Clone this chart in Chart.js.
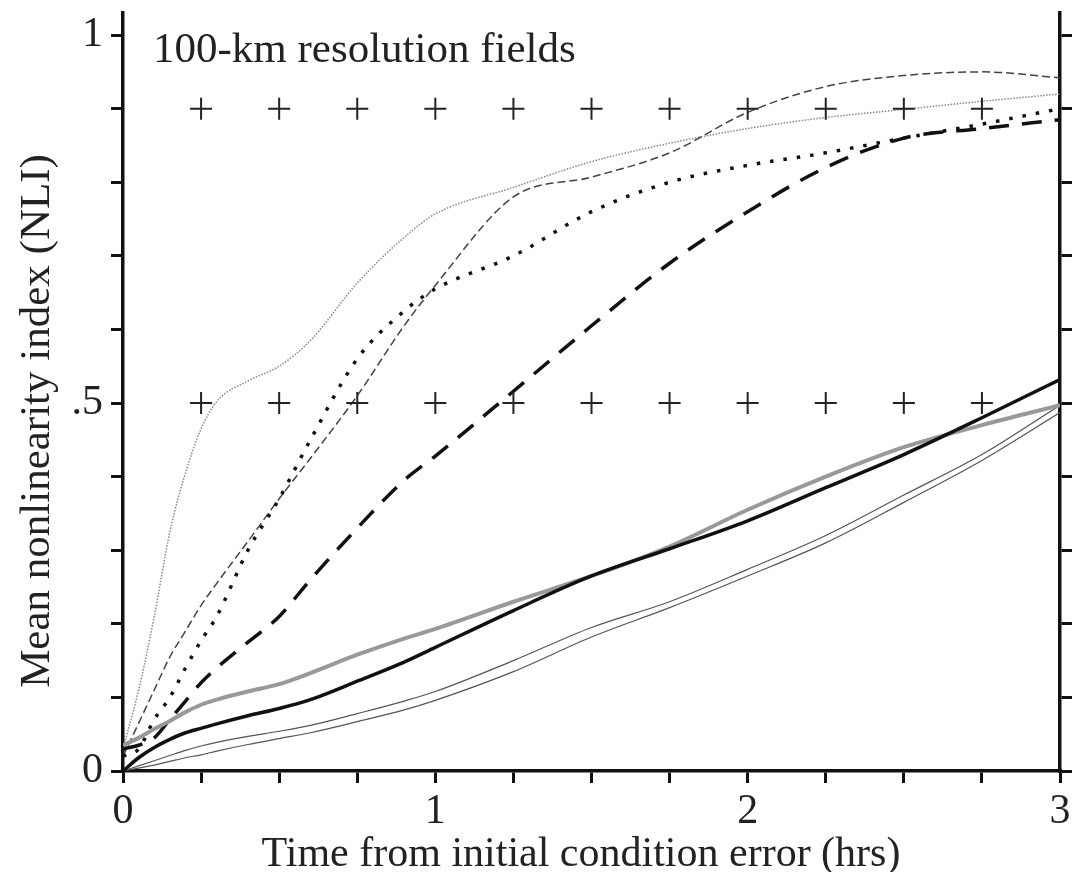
<!DOCTYPE html>
<html>
<head>
<meta charset="utf-8">
<script src="https://cdn.jsdelivr.net/npm/chart.js@4"></script>
<style>
  html, body { margin: 0; padding: 0; background: #fff; }
  #wrap { width: 1073px; height: 872px; }
</style>
</head>
<body>
<div id="wrap"><canvas id="nliChart"></canvas></div>
<script>
// time axis (hrs) shared by all curves
const times = [0, 0.05, 0.1, 0.15, 0.2, 0.25, 0.3, 0.4, 0.5, 0.6, 0.75, 0.9, 1.0, 1.25, 1.5, 1.75, 2.0, 2.25, 2.5, 2.75, 3.0];

// curves
const fineDotted  = [0.03, 0.11, 0.21, 0.325, 0.405, 0.465, 0.502, 0.53, 0.55, 0.585, 0.663, 0.725, 0.757, 0.793, 0.828, 0.853, 0.873, 0.888, 0.899, 0.91, 0.92];
const thinDashed  = [0.02, 0.065, 0.11, 0.155, 0.19, 0.225, 0.255, 0.312, 0.37, 0.425, 0.51, 0.605, 0.66, 0.78, 0.807, 0.84, 0.895, 0.93, 0.945, 0.95, 0.942];
const thickDotted = [0.02, 0.03, 0.07, 0.1, 0.14, 0.177, 0.21, 0.3, 0.37, 0.45, 0.56, 0.625, 0.655, 0.7, 0.76, 0.8, 0.823, 0.84, 0.86, 0.879, 0.9];
const thickDashed = [0.03, 0.035, 0.045, 0.07, 0.095, 0.12, 0.14, 0.175, 0.21, 0.26, 0.33, 0.395, 0.428, 0.516, 0.605, 0.69, 0.76, 0.82, 0.86, 0.873, 0.885];
const graySolid   = [0.035, 0.045, 0.057, 0.068, 0.08, 0.09, 0.097, 0.108, 0.118, 0.133, 0.158, 0.18, 0.193, 0.23, 0.265, 0.305, 0.355, 0.4, 0.44, 0.47, 0.497];
const blackSolid  = [0, 0.018, 0.032, 0.043, 0.052, 0.058, 0.064, 0.075, 0.085, 0.097, 0.122, 0.148, 0.168, 0.218, 0.265, 0.302, 0.34, 0.385, 0.43, 0.48, 0.532];
const thinUpper   = [0, 0.007, 0.014, 0.021, 0.028, 0.034, 0.039, 0.047, 0.054, 0.062, 0.078, 0.095, 0.108, 0.15, 0.195, 0.23, 0.274, 0.32, 0.375, 0.43, 0.497];
const thinLower   = [0, 0.004, 0.008, 0.013, 0.018, 0.022, 0.027, 0.036, 0.044, 0.052, 0.067, 0.083, 0.096, 0.135, 0.182, 0.222, 0.265, 0.31, 0.365, 0.422, 0.487];

// the "+" markers
const crossTimes = [0.25, 0.5, 0.75, 1.0, 1.25, 1.5, 1.75, 2.0, 2.25, 2.5, 2.75];
const crossLevels = [0.9, 0.5];

const panelLabel = '100-km resolution fields';
const xTitle = 'Time from initial condition error (hrs)';
const yTitle = 'Mean nonlinearity index (NLI)';

const serif = 'Liberation Serif';

const toPoints = function (vals) {
    return vals.map((v, i) => ({ x: times[i], y: v }));
};

const crossPoints = [];
crossLevels.forEach(lv => {
    crossTimes.forEach(t => crossPoints.push({ x: t, y: lv }));
});

const lineSet = function (vals, color, width, dash) {
    return {
        type: 'line',
        data: toPoints(vals),
        borderColor: color,
        borderWidth: width,
        borderDash: dash,
        pointRadius: 0,
        cubicInterpolationMode: 'monotone',
        fill: false
    };
};

// titles drawn by hand so they sit where the figure has them
const textPlugin = {
    id: 'textPlugin',
    afterDraw(chart) {
        const ctx = chart.ctx;
        ctx.save();
        ctx.fillStyle = '#222';
        ctx.font = '43px "' + serif + '"';
        ctx.textAlign = 'left';
        ctx.textBaseline = 'alphabetic';
        ctx.fillText(panelLabel, 153, 62);

        ctx.font = '42px "' + serif + '"';
        ctx.textAlign = 'center';
        ctx.fillText(xTitle, 581, 866);

        ctx.font = '43px "' + serif + '"';
        ctx.translate(38, 421);
        ctx.rotate(-Math.PI / 2);
        ctx.textBaseline = 'middle';
        ctx.fillText(yTitle, 0, 0);
        ctx.restore();
    }
};

// keep the scales from reserving extra room for half labels
const noPad = function (scale) {
    scale.paddingTop = 0;
    scale.paddingBottom = 0;
    scale.paddingLeft = 0;
    scale.paddingRight = 0;
};

const axisStyle = {
    border: { display: true, width: 3.5, color: '#111' },
    grid: { drawOnChartArea: false, drawTicks: true, tickLength: 12, color: '#111', lineWidth: 3 }
};

new Chart(document.getElementById('nliChart'), {
    data: {
        datasets: [
            {
                type: 'scatter',
                data: crossPoints,
                pointStyle: 'cross',
                pointRadius: 11,
                pointBorderWidth: 2,
                borderColor: '#222',
                backgroundColor: '#222',
                showLine: false
            },
            lineSet(blackSolid, '#111', 3.5, []),
            lineSet(graySolid, '#999', 4, []),
            lineSet(thickDashed, '#111', 3.5, [20, 13]),
            lineSet(thickDotted, '#111', 3.5, [3.5, 10]),
            lineSet(thinDashed, '#444', 1.5, [8, 4]),
            lineSet(fineDotted, '#888', 1.5, [1.5, 1.5]),
            lineSet(thinUpper, '#555', 1.2, []),
            lineSet(thinLower, '#555', 1.2, [])
        ]
    },
    options: {
        responsive: true,
        maintainAspectRatio: false,
        animation: false,
        layout: { padding: { top: 12, left: 0, right: 0, bottom: 0 } },
        plugins: {
            legend: { display: false },
            tooltip: { enabled: false }
        },
        scales: {
            x: {
                type: 'linear',
                position: 'bottom',
                min: 0,
                max: 3,
                ...axisStyle,
                ticks: {
                    stepSize: 0.25,
                    padding: 4,
                    color: '#222',
                    font: { family: serif, size: 42 },
                    maxRotation: 0,
                    autoSkip: false,
                    callback: v => Number.isInteger(v) ? String(v) : ''
                },
                afterFit: scale => { scale.height = 101; noPad(scale); }
            },
            y: {
                type: 'linear',
                position: 'left',
                min: 0,
                max: 1.03,
                ...axisStyle,
                ticks: {
                    stepSize: 0.1,
                    includeBounds: false,
                    padding: 8,
                    color: '#222',
                    font: { family: serif, size: 42 },
                    autoSkip: false,
                    callback: v => {
                        const r = Math.round(v * 10);
                        if (r === 10) return '1';
                        if (r === 5) return '.5';
                        if (r === 0) return '0';
                        return '';
                    }
                },
                afterFit: scale => { scale.width = 123; noPad(scale); }
            },
            y2: {
                type: 'linear',
                position: 'right',
                min: 0,
                max: 1.03,
                ...axisStyle,
                ticks: {
                    stepSize: 0.1,
                    includeBounds: false,
                    autoSkip: false,
                    callback: () => ''
                },
                afterFit: scale => { scale.width = 13; noPad(scale); }
            }
        }
    },
    plugins: [textPlugin]
});
</script>
</body>
</html>
